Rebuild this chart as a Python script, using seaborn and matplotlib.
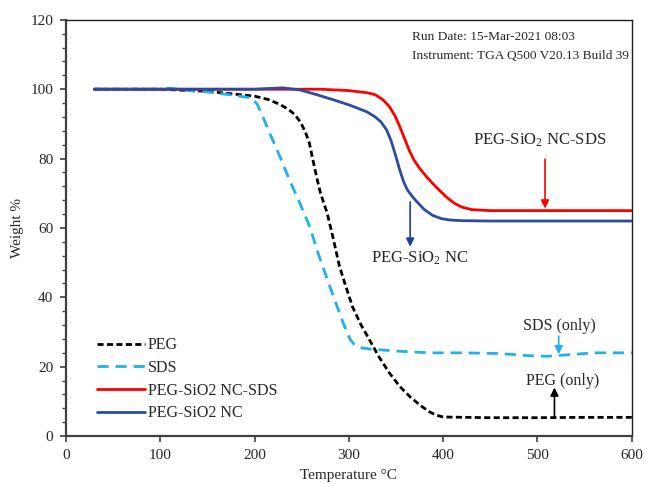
import numpy as np
import pandas as pd
import matplotlib
matplotlib.use("Agg")
import matplotlib.pyplot as plt
from matplotlib.ticker import MultipleLocator
import seaborn as sns

# ─── Data ────────────────────────────────────────────────────────────────────
PEG_T = [30, 100, 150, 200, 215, 227, 236, 243, 249, 254, 258, 262, 266, 270,
         277, 283, 290, 297, 304, 313, 322, 332, 343, 354, 365, 376, 386, 393,
         400, 450, 500, 550, 600]
PEG_W = [100, 100, 99.4, 98.0, 97.0, 95.6, 94.2, 92.6, 90.4, 87.6, 84.6, 79.5,
         74.5, 70.0, 64.3, 57.5, 49.0, 43.0, 37.2, 32.0, 27.7, 22.8, 18.2, 14.3,
         11.3, 8.8, 6.9, 6.0, 5.5, 5.3, 5.3, 5.4, 5.4]

SDS_T = [30, 100, 110, 130, 150, 174, 197, 203, 208, 216, 227, 237, 248, 259,
         267, 280, 294, 301, 306, 312, 322, 351, 386, 420, 460, 490, 510, 530,
         560, 600]
SDS_W = [100, 100, 100.3, 99.6, 99.2, 98.4, 97.5, 95.6, 92.6, 87.4, 80.5, 73.9,
         67.2, 60.0, 53.0, 43.0, 32.6, 28.0, 26.3, 25.5, 25.1, 24.5, 24.0, 24.0,
         23.8, 23.2, 23.0, 23.4, 24.0, 24.0]

RED_T = [30, 200, 270, 300, 319, 328, 336, 343, 349, 354, 359, 364, 369, 375,
         382, 389, 397, 404, 412, 420, 430, 450, 500, 600]
RED_W = [100, 100, 100, 99.6, 99.0, 98.4, 97.0, 95.0, 92.3, 89.2, 85.8, 82.4,
         79.6, 77.2, 74.9, 72.8, 70.6, 68.8, 67.1, 66.0, 65.3, 65.0, 65.0, 65.0]

NAVY_T = [30, 200, 230, 248, 265, 283, 300, 319, 328, 334, 340, 345, 350, 354,
          358, 362, 367, 372, 380, 389, 398, 407, 420, 450, 600]
NAVY_W = [100, 100, 100.4, 99.8, 98.5, 97.0, 95.5, 93.5, 92.0, 90.6, 88.3, 85.0,
          80.5, 76.7, 73.4, 71.0, 69.2, 67.6, 65.3, 63.6, 62.7, 62.3, 62.1, 62.0,
          62.0]

SERIES = ["PEG", "SDS", "PEG-SiO2 NC-SDS", "PEG-SiO2 NC"]
COLORS = ["#000000", "#22b0ec", "#ff0000", "#2c4c9c"]

frames = []
for name, t, w in zip(SERIES, [PEG_T, SDS_T, RED_T, NAVY_T],
                      [PEG_W, SDS_W, RED_W, NAVY_W]):
    frames.append(pd.DataFrame({"Temperature": t, "Weight": w, "Sample": name}))
df = pd.concat(frames, ignore_index=True)

# ─── Style ───────────────────────────────────────────────────────────────────
sns.set_style("ticks")
plt.rcParams["font.family"] = ["Liberation Serif", "DejaVu Serif"]
plt.rcParams["mathtext.fontset"] = "custom"
plt.rcParams["mathtext.rm"] = "Liberation Serif"
plt.rcParams["mathtext.it"] = "Liberation Serif:italic"

fig = plt.figure(figsize=(6.46, 4.84), dpi=100)
ax = fig.add_axes([0.102, 0.099, 0.876, 0.860])

sns.lineplot(data=df, x="Temperature", y="Weight", hue="Sample", style="Sample",
             hue_order=SERIES, style_order=SERIES,
             palette=dict(zip(SERIES, COLORS)),
             dashes={"PEG": (2.2, 1.2), "SDS": (4, 2.5),
                     "PEG-SiO2 NC-SDS": "", "PEG-SiO2 NC": ""},
             linewidth=2.0, sort=False, estimator=None, ax=ax)

ax.set_xlim(0, 600)
ax.set_ylim(0, 120)
ax.xaxis.set_major_locator(MultipleLocator(100))
ax.yaxis.set_major_locator(MultipleLocator(20))
ax.yaxis.set_minor_locator(MultipleLocator(4))
ax.tick_params(axis="both", which="major", direction="out", length=4,
               width=1.2, color="#404040", labelsize=11, pad=5)
ax.tick_params(axis="y", which="minor", direction="out", length=3,
               width=1.0, color="#404040")
for side in ["left", "bottom"]:
    ax.spines[side].set_color("#404040")
    ax.spines[side].set_linewidth(1.6)
for side in ["top", "right"]:
    ax.spines[side].set_color("#202020")
    ax.spines[side].set_linewidth(1.0)

ax.set_xlabel("Temperature °C", fontsize=11, labelpad=5)
ax.set_ylabel("Weight %", fontsize=11, labelpad=5)

# ─── Legend ──────────────────────────────────────────────────────────────────
leg = ax.legend(loc="lower left", bbox_to_anchor=(0.043, 0.02), frameon=False,
                fontsize=11.5, handlelength=3.0, handletextpad=0.2,
                labelspacing=0.42, borderaxespad=0)

# ─── Annotations ─────────────────────────────────────────────────────────────
ax.text(367, 115, "Run Date: 15-Mar-2021 08:03", fontsize=9.6, va="center")
ax.text(367, 109.6, "Instrument: TGA Q500 V20.13 Build 39", fontsize=9.6,
        va="center")

ax.text(502, 85.3, r"PEG-SiO$_2$ NC-SDS", fontsize=12, ha="center",
        va="center")
ax.annotate("", xy=(508, 65.6), xytext=(508, 79.8),
            arrowprops=dict(arrowstyle="-|>", color="#ff0000", lw=1.2,
                            mutation_scale=12, shrinkA=0, shrinkB=0))

ax.text(375, 51.3, r"PEG-SiO$_2$ NC", fontsize=12, ha="center", va="center")
ax.annotate("", xy=(365, 54.6), xytext=(365, 67.5),
            arrowprops=dict(arrowstyle="-|>", color="#1f3f9f", lw=1.2,
                            mutation_scale=12, shrinkA=0, shrinkB=0))

ax.text(523, 31.6, "SDS (only)", fontsize=11.5, ha="center", va="center")
ax.annotate("", xy=(522.5, 23.6), xytext=(522.5, 28.8),
            arrowprops=dict(arrowstyle="-|>", color="#22b0ec", lw=1.2,
                            mutation_scale=12, shrinkA=0, shrinkB=0))

ax.text(527, 15.8, "PEG (only)", fontsize=11.5, ha="center", va="center")
ax.annotate("", xy=(518, 14.0), xytext=(518, 5.6),
            arrowprops=dict(arrowstyle="-|>", color="#000000", lw=1.2,
                            mutation_scale=12, shrinkA=0, shrinkB=0))

fig.savefig("out.png", dpi=100)
plt.close(fig)
